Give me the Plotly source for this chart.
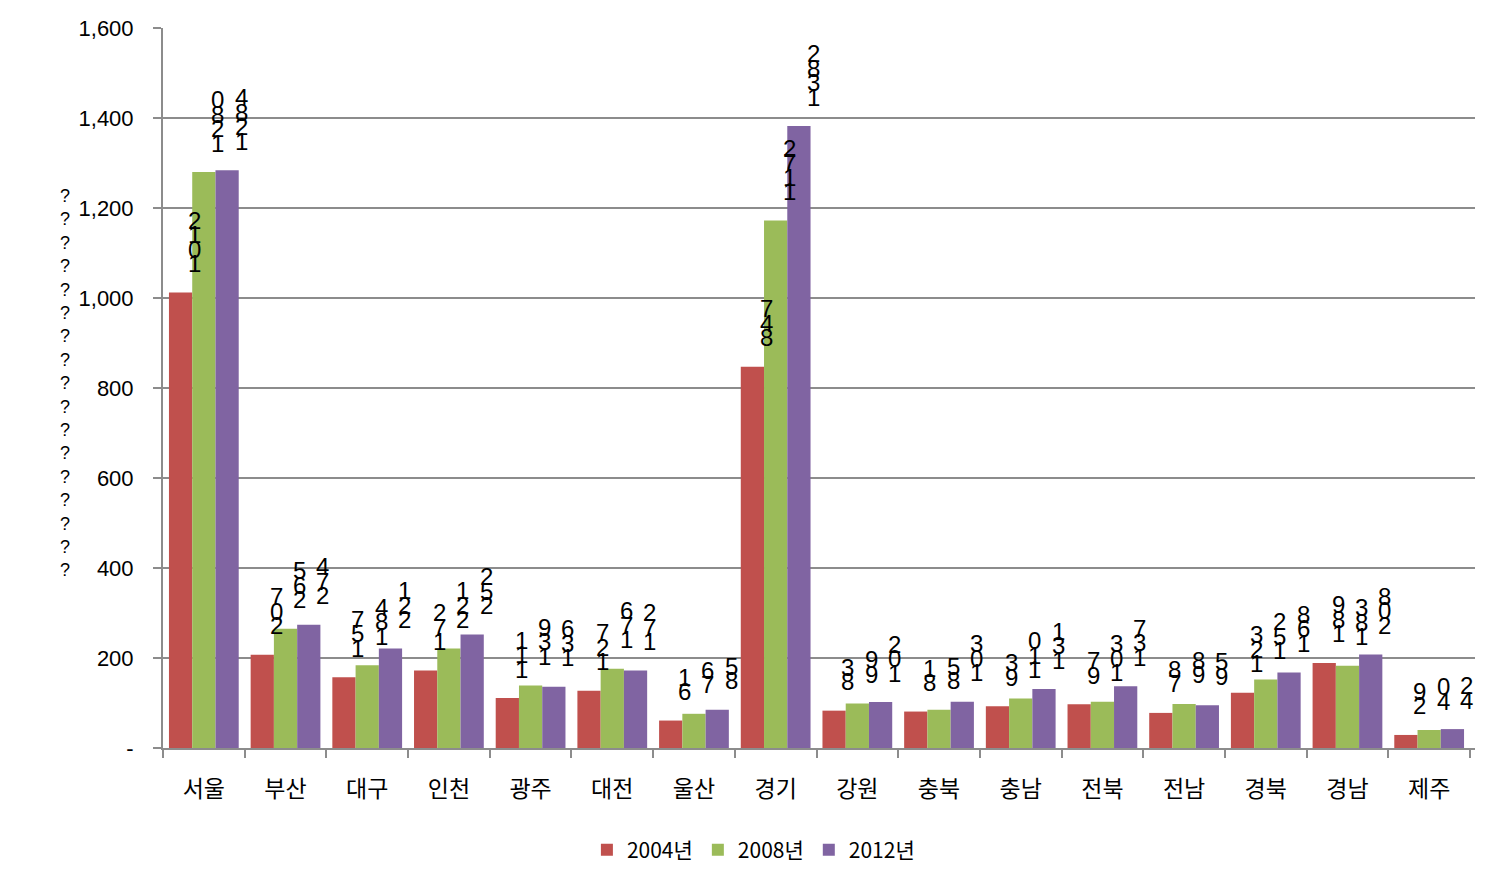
import plotly.graph_objects as go

regions = ["서울", "부산", "대구", "인천", "광주", "대전", "울산", "경기",
           "강원", "충북", "충남", "전북", "전남", "경북", "경남", "제주"]
v2004 = [1012, 207, 157, 172, 111, 127, 61, 847, 83, 81, 93, 97, 78, 123, 189, 29]
v2008 = [1280, 265, 184, 221, 139, 176, 76, 1172, 99, 85, 110, 103, 98, 152, 183, 40]
v2012 = [1284, 274, 221, 252, 136, 172, 85, 1382, 102, 103, 131, 137, 95, 168, 208, 42]
series_names = ["2004년", "2008년", "2012년"]
colors = ["#C0504D", "#9BBB59", "#8064A2"]
ytick_vals = [0, 200, 400, 600, 800, 1000, 1200, 1400, 1600]
ytick_text = ["-", "200", "400", "600", "800", "1,000", "1,200", "1,400", "1,600"]
ytitle_glyphs = ["?"] * 17

series = [v2004, v2008, v2012]

fig = go.Figure()
for name, vals, col in zip(series_names, series, colors):
    fig.add_trace(go.Bar(x=regions, y=vals, name=name, marker_color=col,
                         marker_line_width=0))

# plot geometry (px)
plot_w = 1500 - 163 - 25
bargap = 0.146
cat_w = plot_w / len(regions)
bar_w = cat_w * (1 - bargap) / 3

annotations = []
for j, vals in enumerate(series):
    for cat, v in zip(regions, vals):
        s = str(v)
        for i, ch in enumerate(s):
            annotations.append(dict(
                x=cat, y=v, xref="x", yref="y", text=ch, showarrow=False,
                xanchor="center", yanchor="middle",
                xshift=(j - 1) * bar_w + 14, yshift=29 + i * 14.5,
                font=dict(family="Liberation Sans", size=24, color="#000000"),
            ))

annotations.append(dict(
    x=-0.0747, y=0.507, xref="paper", yref="paper",
    text="<br>".join(ytitle_glyphs), showarrow=False,
    xanchor="center", yanchor="middle",
    font=dict(family="Liberation Sans", size=18, color="#000000"),
))

grid_col = "#8C8C8C"
fig.update_layout(
    width=1500, height=888,
    margin=dict(l=163, r=25, t=28, b=140),
    paper_bgcolor="white", plot_bgcolor="white",
    barmode="group", bargap=bargap, bargroupgap=0,
    font=dict(family="Liberation Sans", size=21, color="#000000"),
    annotations=annotations,
    legend=dict(orientation="h", x=0.45, xanchor="center",
                yref="container", y=1 - 850 / 888, yanchor="middle",
                font=dict(family="Noto Sans CJK KR", size=21),
                itemwidth=30),
    xaxis=dict(
        type="category", showline=True, linecolor=grid_col, linewidth=2,
        ticks="outside", tickson="boundaries", ticklen=8, tickwidth=2,
        tickcolor=grid_col, ticklabelstandoff=19,
        tickfont=dict(family="Noto Sans CJK KR", size=23),
        showgrid=False,
    ),
    yaxis=dict(
        range=[0, 1600], tickvals=ytick_vals, ticktext=ytick_text,
        showgrid=True, gridcolor=grid_col, gridwidth=2,
        showline=True, linecolor=grid_col, linewidth=2,
        ticks="outside", ticklen=8, tickwidth=2, tickcolor=grid_col,
        ticklabelstandoff=15, zeroline=False,
        tickfont=dict(family="Liberation Sans", size=22),
    ),
)

fig.write_html("out.html")
